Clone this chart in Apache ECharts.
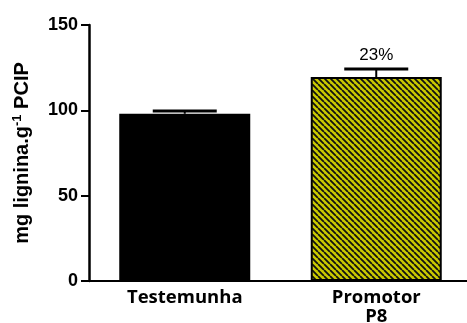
<!DOCTYPE html>
<html>
<head>
<meta charset="utf-8">
<script src="https://cdn.jsdelivr.net/npm/echarts@6/dist/echarts.min.js"></script>
<style>
  html, body { margin: 0; padding: 0; background: #fff; }
  #chart { width: 467px; height: 323px; }
</style>
</head>
<body>
<div id="chart"></div>
<script>
// Lignin content per treatment (mean and upper error)
const categories = ['Testemunha', 'Promotor\nP8'];
const means = [98, 119.5];
const errors = [1.6, 4.7];
const annotations = ['', '23%'];
const yTicks = { min: 0, max: 150, interval: 50 };

// Diagonal hatch pattern for the promoter bar
function hatchPattern() {
  const size = 6;
  const c = document.createElement('canvas');
  c.width = size; c.height = size;
  const ctx = c.getContext('2d');
  ctx.fillStyle = '#c9c900';
  ctx.fillRect(0, 0, size, size);
  ctx.strokeStyle = '#111';
  ctx.lineWidth = 1.8;
  ctx.beginPath();
  for (let k = -1; k <= 1; k++) {
    ctx.moveTo(k * size, 0);
    ctx.lineTo(k * size + size, size);
  }
  ctx.stroke();
  return { image: c, repeat: 'repeat' };
}

const chart = echarts.init(document.getElementById('chart'), null, { renderer: 'canvas' });

const barColors = ['#000', hatchPattern()];
const sans = '"Liberation Sans", Arial, sans-serif';

chart.setOption({
  animation: false,
  grid: { left: 89, top: 25, width: 383, bottom: 42, outerBoundsMode: 'none', containLabel: false },
  xAxis: {
    type: 'category',
    data: categories,
    axisLine: { lineStyle: { color: '#000', width: 2 } },
    axisTick: { alignWithLabel: true, length: 6, lineStyle: { color: '#000', width: 2 } },
    axisLabel: {
      color: '#000', fontFamily: 'Open Sans', fontWeight: 'bold', fontSize: 18.5,
      lineHeight: 19, margin: 7
    }
  },
  yAxis: {
    type: 'value',
    min: yTicks.min, max: yTicks.max, interval: yTicks.interval,
    splitLine: { show: false },
    axisLine: { show: true, lineStyle: { color: '#000', width: 2.5 } },
    axisTick: { show: true, length: 8, lineStyle: { color: '#000', width: 2 } },
    axisLabel: {
      color: '#000', fontFamily: sans, fontWeight: 'bold', fontSize: 18, margin: 11
    },
    name: 'mg lignina.g{sup|-1} PCIP',
    nameLocation: 'middle',
    nameGap: 56,
    nameTextStyle: {
      color: '#000', fontFamily: sans, fontWeight: 'bold', fontSize: 20,
      rich: {
        sup: { fontFamily: sans, fontWeight: 'bold', fontSize: 13, verticalAlign: 'top', padding: [0, 0, 9, 0] }
      }
    }
  },
  series: [
    {
      type: 'bar',
      barWidth: 131,
      data: means.map((v, i) => ({
        value: v,
        itemStyle: { color: barColors[i], borderColor: '#000', borderWidth: 2 }
      })),
      z: 2
    },
    {
      type: 'custom',
      z: 3,
      data: means.map((v, i) => [i, v, errors[i]]),
      renderItem: function (params, api) {
        const i = api.value(0);
        const base = api.coord([i, api.value(1)]);
        const top = api.coord([i, api.value(1) + api.value(2)]);
        const half = 32;
        const children = [
          { type: 'line', shape: { x1: base[0], y1: base[1], x2: top[0], y2: top[1] },
            style: { stroke: '#000', lineWidth: 2 } },
          { type: 'line', shape: { x1: top[0] - half, y1: top[1], x2: top[0] + half, y2: top[1] },
            style: { stroke: '#000', lineWidth: 3 } }
        ];
        const txt = annotations[params.dataIndex];
        if (txt) {
          children.push({
            type: 'text',
            style: {
              text: txt, x: top[0], y: top[1] - 5,
              align: 'center', verticalAlign: 'bottom',
              fill: '#000', font: '17px "Liberation Sans", Arial'
            }
          });
        }
        return { type: 'group', children: children };
      }
    }
  ]
});
</script>
</body>
</html>
